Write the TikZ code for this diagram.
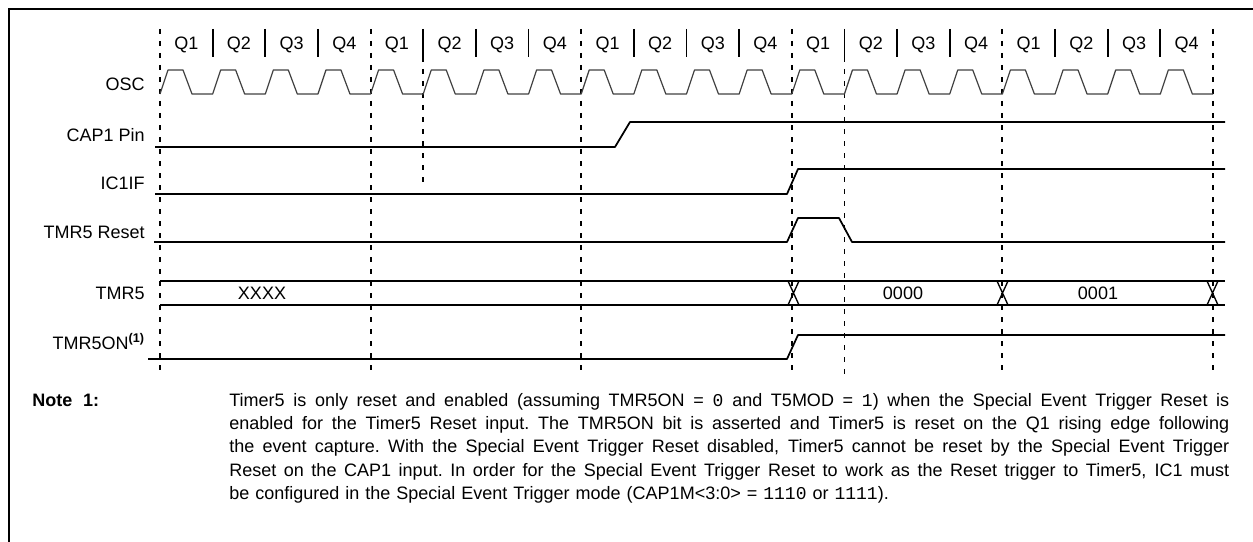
\documentclass[tikz,border=0pt]{standalone}
\usepackage{fontspec}
\setmainfont{Liberation Sans}
\newfontfamily\codefont{Liberation Mono}
\usetikzlibrary{positioning}

\newcommand{\sigfont}{\fontsize{13.5}{16}\selectfont}
\newcommand{\notefont}{\fontsize{13.5}{17.5}\selectfont}
\newcommand{\cval}[1]{{\codefont #1}}
% one line of the note, spread to the full width
\newcommand{\justline}[1]{\leavevmode\hbox to 750pt{%
  \spaceskip=0.28em plus 1fil minus 0.08em%
  \xspaceskip=0.28em plus 1fil minus 0.08em\relax #1}}

\tikzset{
  sigline/.style={line width=1.3pt, line join=round},
  oscline/.style={line width=0.9pt, black!75, line join=round},
  qdash/.style={line width=1.4pt, dash pattern=on 4pt off 5pt},
  qsep/.style={line width=1.4pt},
  siglabel/.style={anchor=east, inner sep=0pt, font=\sigfont},
  qlabel/.style={inner sep=0pt, font=\sigfont},
  busval/.style={inner sep=0pt, font=\sigfont}
}

\begin{document}
\begin{tikzpicture}[x=0.75pt, y=-0.75pt]
\useasboundingbox (0,0) rectangle (1253,542);
% frame
\draw[line width=1.8pt] (9,542) -- (9,9) -- (1253,9);

% quarter labels and separators
\foreach \p in {0,...,4} {
  \foreach \q in {1,...,4}
    \node[qlabel] (q\p\q) at ({160+\p*210.6+(\q-0.5)*52.65},45) {Q\q};
  \foreach \q in {1,2,3}
    \draw[qsep] ({160+\p*210.6+\q*52.65},29) -- ({160+\p*210.6+\q*52.65},57);
}
% cycle boundaries
\foreach \k in {0,...,5}
  \draw[qdash] ({160+\k*210.6},29) -- ({160+\k*210.6},376);
\draw[qdash] (423.3,57) -- (423.3,188);
\draw[qdash] (844.5,57) -- (844.5,376);

% row labels
\node[siglabel] (osc) at (145,84) {OSC};
\node[siglabel] (cap) at (145,135) {CAP1 Pin};
\node[siglabel] (icif) at (145,183) {IC1IF};
\node[siglabel] (rst) at (145,232) {TMR5 Reset};
\node[siglabel] (tmr) at (145,293) {TMR5};
\node[siglabel] (tmron) at (145,342) {TMR5ON\textsuperscript{\bfseries(1)}};

% OSC
\draw[oscline] (160,94)
  \foreach \i in {0,...,19} {
    -- ({160+\i*52.65},94) -- ({168+\i*52.65},70)
    -- ({183+\i*52.65},70) -- ({192+\i*52.65},94)
  } -- (1213,94);

% signals
\draw[sigline] (155,147) -- (615,147) -- (630,122) -- (1225,122);
\draw[sigline] (155,194) -- (787,194) -- (798,169) -- (1225,169);
\draw[sigline] (154,242) -- (787,242) -- (798,218) -- (839,218)
  -- (852,242) -- (1225,242);
\draw[sigline] (148,359) -- (787,359) -- (798,335) -- (1225,335);

% TMR5 bus
\draw[sigline] (160,281) -- (1225,281) (160,305) -- (1225,305);
\foreach \xa in {788,997,1207}
  \draw[line width=1pt] (\xa,281) -- ({\xa+11},305) (\xa,305) -- ({\xa+11},281);
\node[busval] (v0) at (262,293) {XXXX};
\node[busval] (v1) at (903,293) {0000};
\node[busval] (v2) at (1098,293) {0001};

% note
\node[anchor=base west, inner sep=0pt, font=\notefont\bfseries] (notehead)
  at (32,406) {Note\hspace{0.6em}1:};
\node[anchor=base west, inner sep=0pt, font=\notefont, text width=750pt,
      align=left] (notebody) at (229,406)
  {\justline{Timer5 is only reset and enabled (assuming TMR5ON = \cval{0} and T5MOD = \cval{1}) when the Special Event Trigger Reset is}\\
   \justline{enabled for the Timer5 Reset input. The TMR5ON bit is asserted and Timer5 is reset on the Q1 rising edge following}\\
   \justline{the event capture. With the Special Event Trigger Reset disabled, Timer5 cannot be reset by the Special Event Trigger}\\
   \justline{Reset on the CAP1 input. In order for the Special Event Trigger Reset to work as the Reset trigger to Timer5, IC1 must}\\
   be configured in the Special Event Trigger mode (CAP1M<3:0> = \cval{1110} or \cval{1111}).};
\end{tikzpicture}
\end{document}
